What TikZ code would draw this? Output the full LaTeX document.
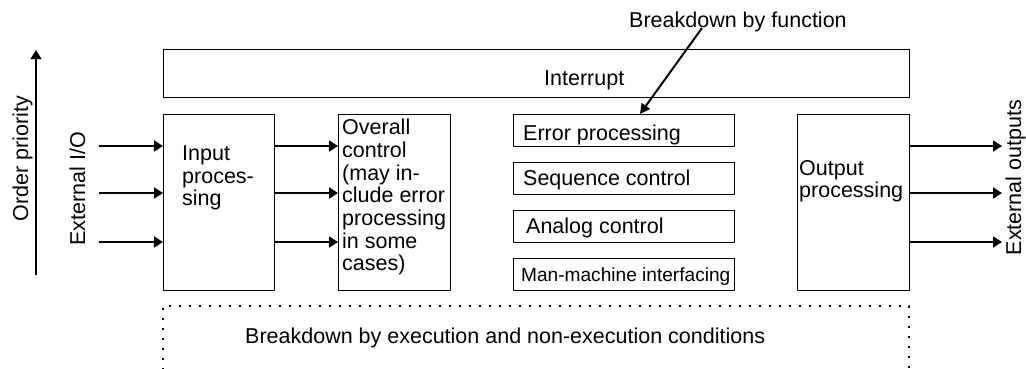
\documentclass[tikz,border=0pt]{standalone}
\usepackage{fontspec}
\setmainfont{Liberation Sans}
\usetikzlibrary{arrows.meta}
\begin{document}
\begin{tikzpicture}[x=1pt,y=-1pt,
  box/.style={draw,line width=1.3pt,rectangle,inner sep=0pt,anchor=north west},
  txt/.style={inner sep=0pt,font=\fontsize{21.5}{22.7}\selectfont},
  smalltxt/.style={inner sep=0pt,font=\fontsize{19.1}{21}\selectfont},
  arr/.style={line width=2pt,-{Triangle[length=9pt,width=11pt]}},
  dotbox/.style={line width=1.6pt,dash pattern=on 1.6pt off 8.4pt}]
\useasboundingbox (0,0) rectangle (1026,368);

% boxes
\node[box,minimum width=746pt,minimum height=48pt] (intr) at (163,49) {};
\node[box,minimum width=111pt,minimum height=176pt] (inp) at (163,114) {};
\node[box,minimum width=112pt,minimum height=176pt] (ovr) at (338,114) {};
\node[box,minimum width=221pt,minimum height=32pt] (err) at (513,114) {};
\node[box,minimum width=221pt,minimum height=32pt] (seq) at (513,162) {};
\node[box,minimum width=221pt,minimum height=32pt] (ana) at (513,210) {};
\node[box,minimum width=221pt,minimum height=32pt] (mmi) at (513,258) {};
\node[box,minimum width=112pt,minimum height=176pt] (outp) at (797,114) {};

% dotted box (bottom edge lies outside the picture)
\draw[dotbox] (163,390) -- (163,306) -- (909,306) -- (909,390);

% texts
\node[txt,anchor=base west] (tintr) at (544,85) {Interrupt};
\node[txt,anchor=north west,align=left] (tinp) at (182,145.5) {Input\\proces-\\sing};
\node[txt,anchor=north west,align=left] (tovr) at (342,119) {Overall\\control\\(may in-\\clude error\\processing\\in some\\cases)};
\node[txt,anchor=base west] (terr) at (523,140) {Error processing};
\node[txt,anchor=base west] (tseq) at (523,185) {Sequence control};
\node[txt,anchor=base west] (tana) at (526,233) {Analog control};
\node[smalltxt,anchor=base west] (tmmi) at (521,281) {Man-machine interfacing};
\node[txt,anchor=north west,align=left] (toutp) at (799,160) {Output\\processing};
\node[txt,anchor=base west] (tbf) at (629,27) {Breakdown by function};
\node[txt,anchor=base west] (tbe) at (245,343) {Breakdown by execution and non-execution conditions};
\node[txt,anchor=base,rotate=90] (tord) at (28,158.5) {Order priority};
\node[txt,anchor=base,rotate=90] (text) at (85,189) {External I/O};
\node[txt,anchor=base,rotate=90] (tout) at (1021,177.5) {External outputs};

% order priority arrow
\coordinate (op1) at (36,275);
\coordinate (op2) at (36,50);
\draw[line width=2pt,-{Triangle[length=9pt,width=10.5pt]}] (op1) -- (op2);

% breakdown by function arrow
\coordinate (bfs) at (702,28);
\draw[line width=2pt,-{Triangle[length=10pt,width=10pt]}] (bfs) -- ([xshift=127pt]err.north west);

% inputs and outputs
\foreach \y [count=\i] in {146,193,242}{
  \coordinate (in\i) at (99,\y);
  \coordinate (out\i) at (1002,\y);
}
\foreach \i in {1,2,3}{
  \draw[arr] (in\i) -- (in\i -| inp.west);
  \draw[arr] (inp.east |- in\i) -- (ovr.west |- in\i);
  \draw[arr] (outp.east |- out\i) -- (out\i);
}
\end{tikzpicture}
\end{document}
